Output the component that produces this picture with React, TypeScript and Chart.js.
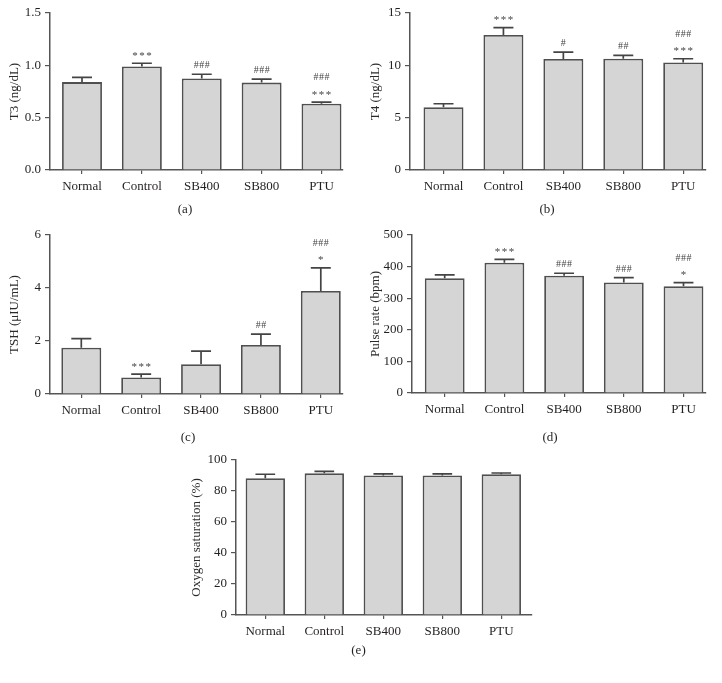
import React, { useEffect, useRef } from "react";
import { Chart, registerables } from "chart.js";

Chart.register(...registerables);

const FONT = "'Liberation Serif', 'Times New Roman', serif";
Chart.defaults.font.family = FONT;
Chart.defaults.font.size = 13;
Chart.defaults.color = "#231f20";

// ---------- data ----------
const GROUPS = ["Normal", "Control", "SB400", "SB800", "PTU"];

const T3_MEAN = [0.84, 0.99, 0.875, 0.835, 0.633];
const T3_ERR = [0.885, 1.02, 0.915, 0.868, 0.648];
const T3_MARKS = [[], ["***"], ["###"], ["###"], ["***", "###"]];
const T3_TICKS = [0, 0.5, 1.0, 1.5];

const T4_MEAN = [6.0, 12.9, 10.6, 10.63, 10.28];
const T4_ERR = [6.33, 13.6, 11.27, 10.96, 10.63];
const T4_MARKS = [[], ["***"], ["#"], ["##"], ["***", "###"]];
const T4_TICKS = [0, 5, 10, 15];

const TSH_MEAN = [1.75, 0.62, 1.12, 1.85, 3.89];
const TSH_ERR = [2.09, 0.75, 1.62, 2.26, 4.76];
const TSH_MARKS = [[], ["***"], [], ["##"], ["*", "###"]];
const TSH_TICKS = [0, 2, 4, 6];

const PULSE_MEAN = [363, 412, 371, 350, 338];
const PULSE_ERR = [374, 423, 379, 365, 349];
const PULSE_MARKS = [[], ["***"], ["###"], ["###"], ["*", "###"]];
const PULSE_TICKS = [0, 100, 200, 300, 400, 500];

const O2_MEAN = [88.2, 91.4, 90.0, 90.0, 90.8];
const O2_ERR = [90.8, 92.7, 91.0, 91.0, 91.6];
const O2_MARKS = [[], [], [], [], []];
const O2_TICKS = [0, 20, 40, 60, 80, 100];

type PanelCfg = {
  box: { x: number; y: number; w: number; h: number };
  area: { l: number; r: number; t: number; b: number };
  centers: [number, number];
  titlePad: number;
  title: string;
  decimals: number;
  ticks: number[];
  means: number[];
  errs: number[];
  marks: string[][];
  caption: string;
  capPos: [number, number];
};

const PANELS: PanelCfg[] = [
  {
    box: { x: 0, y: 0, w: 361, h: 225 },
    area: { l: 50, r: 343, t: 13, b: 170 },
    centers: [82, 321.5],
    titlePad: 7.2,
    title: "T3 (ng/dL)",
    decimals: 1,
    ticks: T3_TICKS,
    means: T3_MEAN,
    errs: T3_ERR,
    marks: T3_MARKS,
    caption: "(a)",
    capPos: [185, 210],
  },
  {
    box: { x: 361, y: 0, w: 361, h: 225 },
    area: { l: 410, r: 706, t: 13, b: 170 },
    centers: [443.5, 683.2],
    titlePad: 7.2,
    title: "T4 (ng/dL)",
    decimals: 0,
    ticks: T4_TICKS,
    means: T4_MEAN,
    errs: T4_ERR,
    marks: T4_MARKS,
    caption: "(b)",
    capPos: [547, 210],
  },
  {
    box: { x: 0, y: 222, w: 361, h: 228 },
    area: { l: 50, r: 343, t: 235, b: 394 },
    centers: [81.3, 320.8],
    titlePad: 7.2,
    title: "TSH (\u03BCIU/mL)",
    decimals: 0,
    ticks: TSH_TICKS,
    means: TSH_MEAN,
    errs: TSH_ERR,
    marks: TSH_MARKS,
    caption: "(c)",
    capPos: [188, 438],
  },
  {
    box: { x: 361, y: 222, w: 361, h: 228 },
    area: { l: 412, r: 706, t: 235, b: 393 },
    centers: [444.7, 683.5],
    titlePad: 7.2,
    title: "Pulse rate (bpm)",
    decimals: 0,
    ticks: PULSE_TICKS,
    means: PULSE_MEAN,
    errs: PULSE_ERR,
    marks: PULSE_MARKS,
    caption: "(d)",
    capPos: [550, 438],
  },
  {
    box: { x: 170, y: 447, w: 380, h: 220 },
    area: { l: 236, r: 532, t: 460, b: 615 },
    centers: [265.3, 501.3],
    titlePad: 18.9,
    title: "Oxygen saturation (%)",
    decimals: 0,
    ticks: O2_TICKS,
    means: O2_MEAN,
    errs: O2_ERR,
    marks: O2_MARKS,
    caption: "(e)",
    capPos: [358.5, 651],
  },
];

const AXIS = "#555555";

function Panel({ cfg }: { cfg: PanelCfg }) {
  const ref = useRef<HTMLCanvasElement | null>(null);

  useEffect(() => {
    const canvas = ref.current;
    if (!canvas) return;
    const { box, area, centers } = cfg;
    const n = GROUPS.length;
    const sp = (centers[1] - centers[0]) / (n - 1);
    const xmin = -(centers[0] - area.l) / sp;
    const xmax = n - 1 + (area.r - centers[1]) / sp;

    const errPlugin = {
      id: "errs",
      afterDatasetsDraw(chart: any) {
        const ctx = chart.ctx as CanvasRenderingContext2D;
        const meta = chart.getDatasetMeta(0);
        const ys = chart.scales.y;
        ctx.save();
        meta.data.forEach((bar: any, i: number) => {
          const top = ys.getPixelForValue(cfg.errs[i]);
          const half = bar.width / 4;
          ctx.strokeStyle = "#444444";
          ctx.lineWidth = 1.7;
          ctx.beginPath();
          ctx.moveTo(bar.x, bar.y);
          ctx.lineTo(bar.x, top);
          ctx.moveTo(bar.x - half, top);
          ctx.lineTo(bar.x + half, top);
          ctx.stroke();
          cfg.marks[i].forEach((m, j) => {
            const star = m.includes("*");
            ctx.font = `${star ? 11 : 10}px ${FONT}`;
            ctx.fillStyle = "#444";
            ctx.textAlign = "center";
            ctx.textBaseline = "alphabetic";
            (ctx as any).letterSpacing = star ? "1.5px" : "0.5px";
            const mt = ctx.measureText(m);
            const cy = top - 9.5 - 16 * j;
            const base = cy + (mt.actualBoundingBoxAscent - mt.actualBoundingBoxDescent) / 2;
            ctx.fillText(m, bar.x + (star ? 0.75 : 0.25), base);
          });
        });
        (ctx as any).letterSpacing = "0px";
        ctx.restore();
      },
      afterDraw(chart: any) {
        const ctx = chart.ctx as CanvasRenderingContext2D;
        ctx.save();
        ctx.font = `13px ${FONT}`;
        ctx.fillStyle = "#231f20";
        ctx.textAlign = "center";
        ctx.textBaseline = "middle";
        ctx.fillText(cfg.caption, cfg.capPos[0] - box.x, cfg.capPos[1] - box.y);
        ctx.restore();
      },
    };

    const chart = new Chart(canvas, {
      type: "bar",
      data: {
        labels: GROUPS,
        datasets: [
          {
            data: cfg.means.map((v, i) => ({ x: i, y: v })),
            backgroundColor: "#d5d5d5",
            borderColor: "#4f4f4f",
            borderWidth: 1.8,
            barPercentage: 0.667,
            categoryPercentage: 1,
          } as any,
        ],
      },
      options: {
        responsive: false,
        animation: false,
        layout: {
          padding: {
            left: 0,
            top: area.t - box.y,
            right: box.x + box.w - area.r,
            bottom: 0,
          },
        },
        plugins: {
          legend: { display: false },
          tooltip: { enabled: false },
          title: { display: false },
        },
        scales: {
          x: {
            type: "linear",
            offset: false,
            min: xmin,
            max: xmax,
            afterBuildTicks: (s: any) => {
              s.ticks = GROUPS.map((_, i) => ({ value: i }));
            },
            afterFit: (s: any) => {
              s.height = box.y + box.h - area.b;
            },
            ticks: {
              autoSkip: false,
              maxRotation: 0,
              padding: 5,
              color: "#231f20",
              font: { size: 13, family: FONT },
              callback: (v: any) => GROUPS[Math.round(Number(v))] ?? "",
            },
            grid: {
              offset: false,
              drawOnChartArea: false,
              drawTicks: true,
              tickLength: 4,
              color: AXIS,
              lineWidth: 1.2,
            },
            border: { display: true, color: AXIS, width: 1.5 },
          },
          y: {
            type: "linear",
            min: cfg.ticks[0],
            max: cfg.ticks[cfg.ticks.length - 1],
            afterBuildTicks: (s: any) => {
              s.ticks = cfg.ticks.map((v) => ({ value: v }));
            },
            afterFit: (s: any) => {
              s.width = area.l - box.x;
            },
            ticks: {
              padding: 4,
              color: "#231f20",
              font: { size: 13, family: FONT },
              callback: (v: any) => Number(v).toFixed(cfg.decimals),
            },
            grid: {
              drawOnChartArea: false,
              drawTicks: true,
              tickLength: 5,
              color: AXIS,
              lineWidth: 1.2,
            },
            border: { display: true, color: AXIS, width: 1.5 },
            title: {
              display: true,
              text: cfg.title,
              color: "#2a2a2a",
              font: { size: 13, family: FONT },
              padding: { top: cfg.titlePad, bottom: 0 },
            },
          },
        },
      },
      plugins: [errPlugin],
    } as any);

    return () => chart.destroy();
  }, [cfg]);

  const { box } = cfg;
  return (
    <canvas
      ref={ref}
      width={box.w}
      height={box.h}
      style={{ position: "absolute", left: box.x, top: box.y, width: box.w, height: box.h, display: "block" }}
    />
  );
}

export default function App() {
  return (
    <div
      style={{
        position: "absolute",
        left: 0,
        top: 0,
        width: 722,
        height: 683,
        background: "#ffffff",
        overflow: "hidden",
      }}
    >
      {PANELS.map((p) => (
        <Panel key={p.caption} cfg={p} />
      ))}
    </div>
  );
}
